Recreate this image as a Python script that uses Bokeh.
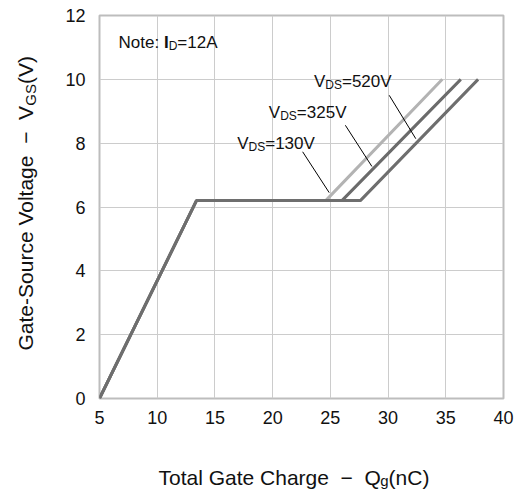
import math
from bokeh.plotting import figure
from bokeh.models import Range1d, Label, FixedTicker
from bokeh.embed import file_html
from bokeh.resources import INLINE

# ---- data ----
qg_130 = [5, 13.4, 24.6, 34.7]
vgs_130 = [0, 6.2, 6.2, 10]
qg_325 = [5, 13.4, 26.0, 36.3]
vgs_325 = [0, 6.2, 6.2, 10]
qg_520 = [5, 13.4, 27.6, 37.8]
vgs_520 = [0, 6.2, 6.2, 10]

x_ticks = [5, 10, 15, 20, 25, 30, 35, 40]
y_ticks = [0, 2, 4, 6, 8, 10, 12]

# leader lines (label -> curve)
lead_x0 = [22.6, 26.3, 30.1]
lead_y0 = [7.73, 8.56, 9.50]
lead_x1 = [24.9, 28.6, 32.4]
lead_y1 = [6.45, 7.27, 8.14]

FONT = "Liberation Sans"
NB = "\u00a0"

W = {' ': 278, NB: 278, '-': 333, '−': 584, '=': 584, ':': 278, '(': 333, ')': 333,
     '0': 556, '1': 556, '2': 556, '3': 556, '4': 556, '5': 556, '6': 556,
     '7': 556, '8': 556, '9': 556, 'A': 667, 'C': 722, 'D': 722, 'G': 778,
     'I': 278, 'N': 722, 'Q': 778, 'S': 667, 'T': 611, 'V': 667,
     'a': 556, 'c': 500, 'e': 556, 'g': 556, 'h': 556, 'l': 222, 'n': 556,
     'o': 556, 'r': 333, 't': 278, 'u': 556}

BASE_FIX = 0.35  # baseline correction, fraction of font size


def tw(s, size):
    return sum(W.get(c, 556) for c in s) * size / 1000.0


p = figure(width=519, height=491, output_backend="svg", toolbar_location=None,
           x_range=Range1d(5, 40), y_range=Range1d(0, 12),
           min_border_left=99, min_border_right=16, min_border_top=15,
           min_border_bottom=93)
p.frame_width = 404
p.frame_height = 383
p.background_fill_color = "white"
p.border_fill_color = "white"
p.outline_line_color = "#bdbdbd"
p.outline_line_width = 2

for ax in (p.xaxis[0], p.yaxis[0]):
    ax.major_tick_in = 0
    ax.major_tick_out = 0
    ax.minor_tick_in = 0
    ax.minor_tick_out = 0
    ax.axis_line_color = None
    ax.major_label_text_font = FONT
    ax.major_label_text_font_size = "18px"
    ax.major_label_text_color = "#111111"
p.xaxis[0].ticker = FixedTicker(ticks=x_ticks)
p.yaxis[0].ticker = FixedTicker(ticks=y_ticks)
p.xaxis[0].major_label_standoff = 12
p.yaxis[0].major_label_standoff = 14

p.xgrid[0].ticker = FixedTicker(ticks=x_ticks)
p.ygrid[0].ticker = FixedTicker(ticks=y_ticks)
p.grid.grid_line_color = "#cccccc"
p.grid.grid_line_width = 1

p.line(qg_130, vgs_130, line_color="#b3b3b3", line_width=3)
p.line(qg_325, vgs_325, line_color="#6b6b6b", line_width=3)
p.line(qg_520, vgs_520, line_color="#6e6e6e", line_width=3)

p.segment(lead_x0, lead_y0, lead_x1, lead_y1, line_color="black", line_width=1)


def rich(parts, x, y, rotated=False, units="data", place="center"):
    pos = 0.0
    for text, size, dy, bold, kern in parts:
        lift = BASE_FIX * size
        pos += kern
        if rotated:
            xo, yo = dy - lift, pos
        else:
            xo, yo = pos, -dy + lift
        lab = Label(x=x, y=y, x_units=units, y_units=units,
                    x_offset=xo, y_offset=yo, text=text,
                    text_font=FONT, text_font_size=f"{size}px",
                    text_font_style="bold" if bold else "normal",
                    text_color="#111111", text_baseline="alphabetic",
                    text_align="left",
                    angle=math.pi / 2 if rotated else 0)
        p.add_layout(lab, place)
        pos += tw(text, size)


def vds(val, x, y):
    rich([("V", 17, 0, False, 0), ("DS", 12, 2, False, 0),
          ("=" + val, 17, 0, False, 0)], x, y)


vds("130V", 16.93, 7.80)
vds("325V", 19.67, 8.77)
vds("520V", 23.58, 9.74)

rich([("Note: ", 17, 0, False, 0), ("I", 17, 0, True, 0), ("D", 12, 2, False, 0),
      ("=12A", 17, 0, False, 0)], 6.65, 10.98)

# axis titles (canvas pixels, measured from the top-left corner)
rich([("Total Gate Charge" + NB * 2 + "−" + NB * 2 + "Q", 21, 0, False, 0),
      ("g", 15, 1, False, -3), ("(nC)", 21, 0, False, 0)],
     158, 484, units="canvas", place="below")
rich([("Gate-Source Voltage" + NB * 2 + "−" + NB * 2 + "V", 21, 0, False, 0),
      ("GS", 15, 3, False, -1), ("(V)", 21, 0, False, 0)],
     32, 350, rotated=True, units="canvas", place="below")

open("out.html", "w").write(file_html(p, INLINE))
